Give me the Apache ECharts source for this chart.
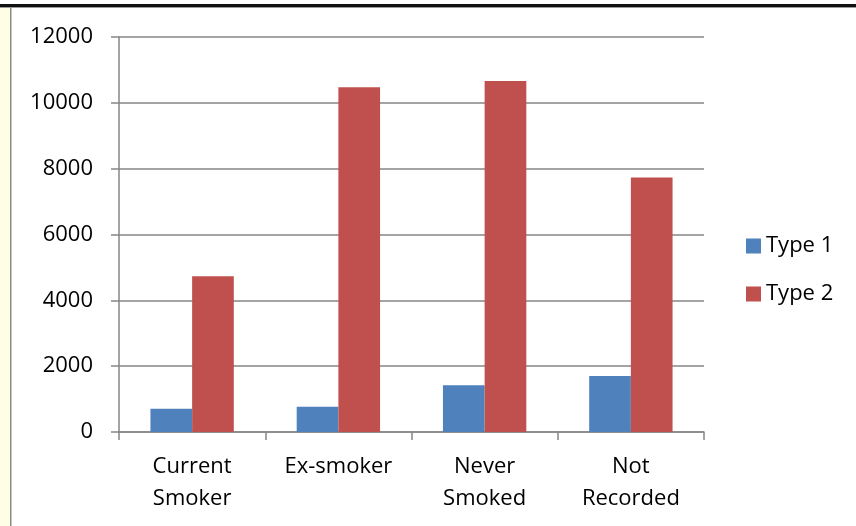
<!DOCTYPE html>
<html>
<head>
<meta charset="utf-8">
<style>
  html, body { margin: 0; padding: 0; background: #ffffff; }
  #chart { width: 856px; height: 526px; }
</style>
<script src="https://cdn.jsdelivr.net/npm/echarts@6/dist/echarts.min.js"></script>
</head>
<body>
<div id="chart"></div>
<script>
// Smoking status categories and diabetes counts per type
const categories = ['Current\nSmoker', 'Ex-smoker', 'Never\nSmoked', 'Not\nRecorded'];
const type1 = [710, 770, 1420, 1700];
const type2 = [4730, 10470, 10660, 7730];
const seriesNames = ['Type 1', 'Type 2'];
const yTicks = [0, 2000, 4000, 6000, 8000, 10000, 12000];

const FONT = 'Open Sans';
const FONT_SIZE = 22;
const axisGray = '#868686';

const chart = echarts.init(document.getElementById('chart'));
chart.setOption({
  animation: false,
  backgroundColor: '#ffffff',
  textStyle: { fontFamily: FONT },
  graphic: [
    // pale strip and frame edge on the left
    { type: 'rect', shape: { x: 0, y: 7, width: 10, height: 519 }, style: { fill: '#fffde6' }, silent: true },
    { type: 'rect', shape: { x: 10, y: 7, width: 1.5, height: 519 }, style: { fill: '#8a8a8a' }, silent: true },
    // dark frame edge along the top
    { type: 'rect', shape: { x: 0, y: 4, width: 856, height: 3 }, style: { fill: '#111111' }, silent: true },
    { type: 'rect', shape: { x: 0, y: 7, width: 856, height: 1 }, style: { fill: '#9a9a9a' }, silent: true }
  ],
  grid: { left: 119, right: 152, top: 37, bottom: 94 },
  legend: {
    orient: 'vertical',
    left: 741,
    top: 230,
    padding: 5,
    itemWidth: 15,
    itemHeight: 15,
    itemGap: 26,
    itemTextGap: 7,
    icon: 'rect',
    textStyle: { fontFamily: FONT, fontSize: FONT_SIZE, lineHeight: 22, color: '#000000' },
    data: seriesNames
  },
  xAxis: {
    type: 'category',
    data: categories,
    axisLine: { lineStyle: { color: axisGray, width: 1.5 } },
    axisTick: { show: true, length: 8, alignWithLabel: false, lineStyle: { color: axisGray, width: 1.5 } },
    axisLabel: { color: '#000000', fontSize: FONT_SIZE, fontFamily: FONT, margin: 19, lineHeight: 32, interval: 0 }
  },
  yAxis: {
    type: 'value',
    min: yTicks[0],
    max: yTicks[yTicks.length - 1],
    interval: 2000,
    axisLine: { show: true, lineStyle: { color: axisGray, width: 1.5 } },
    axisTick: { show: true, length: 8, inside: false, lineStyle: { color: axisGray, width: 1.5 } },
    splitLine: { show: true, lineStyle: { color: axisGray, width: 1.5 } },
    axisLabel: { color: '#000000', fontSize: FONT_SIZE, fontFamily: FONT, margin: 26, formatter: (v) => String(v) }
  },
  series: [
    {
      name: seriesNames[0], type: 'bar', data: type1,
      barGap: '0%', barCategoryGap: '43%',
      itemStyle: { color: '#4f81bd' }
    },
    {
      name: seriesNames[1], type: 'bar', data: type2,
      barGap: '0%', barCategoryGap: '43%',
      itemStyle: { color: '#c0504d' }
    }
  ]
});
</script>
</body>
</html>
